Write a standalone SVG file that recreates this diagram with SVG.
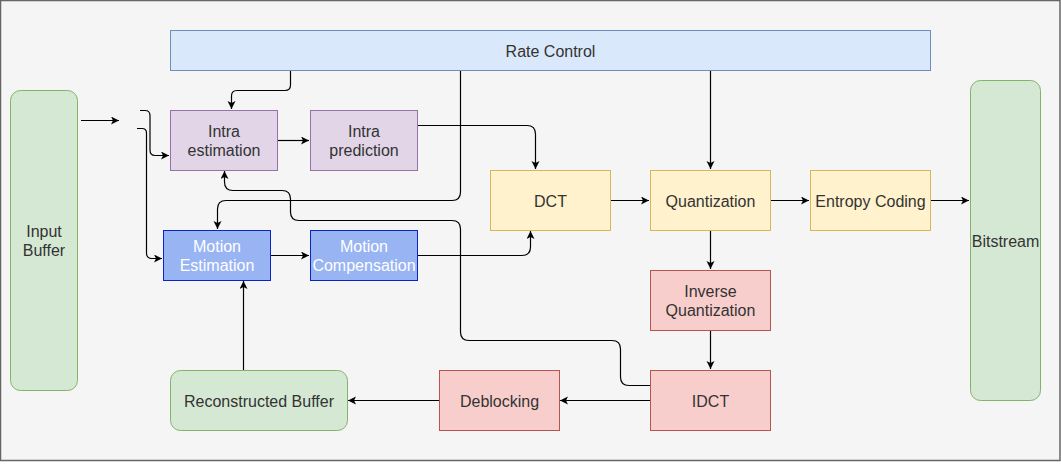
<svg xmlns="http://www.w3.org/2000/svg" width="1061" height="469" viewBox="0 0 1061 469">
<style>
.t{font-family:"Liberation Sans",Arial,sans-serif;font-size:16px;fill:#333;text-anchor:middle}
.w{fill:#fff}
.g{fill:#d5e8d4;stroke:#82b366}
.b{fill:#dae8fc;stroke:#6c8ebf}
.p{fill:#e1d5e7;stroke:#9673a6}
.m{fill:#99b4f3;stroke:#0a24c8}
.y{fill:#fff2cc;stroke:#d6b656}
.r{fill:#f8cecc;stroke:#b85450}
.e{fill:none;stroke:#000;stroke-width:1.2;marker-end:url(#a)}
.n{fill:none;stroke:#000;stroke-width:1.2}
</style>
<defs>
<marker id="a" markerUnits="userSpaceOnUse" markerWidth="10" markerHeight="10" refX="8" refY="4" orient="auto"><path d="M0,0 L8,4 L0,8 L2,4 z" fill="#000"/></marker>
</defs>
<rect x="0.5" y="0.5" width="1059.5" height="460" fill="#f5f5f5" stroke="#666" stroke-width="1.5"/>
<g id="connectors">
<path class="e" d="M81,120.5 L119,120.5"/>
<path class="e" d="M140,110.5 L145,110.5 Q150,110.5 150,115.5 L150,150 Q150,155.5 155,155.5 L169,155.5"/>
<path class="e" d="M137,128.5 L142,128.5 Q146.5,128.5 146.5,133 L146.5,253 Q146.5,258.5 152,258.5 L162,258.5"/>
<path class="e" d="M290.5,70 L290.5,85 Q290.5,90.5 285,90.5 L237,90.5 Q231.5,90.5 231.5,96 L231.5,109"/>
<path class="e" d="M277,140.5 L309,140.5"/>
<path class="e" d="M270,255.5 L309,255.5"/>
<path class="e" d="M417,125.5 L527,125.5 Q535.5,125.5 535.5,134 L535.5,169"/>
<path class="e" d="M417,255.5 L522,255.5 Q530.5,255.5 530.5,247 L530.5,231"/>
<path class="e" d="M460.5,70 L460.5,192 Q460.5,200.5 452,200.5 L226,200.5 Q217.5,200.5 217.5,209 L217.5,229"/>
<path class="e" d="M650,385.5 L629,385.5 Q620.5,385.5 620.5,377 L620.5,349 Q620.5,340.5 612,340.5 L469,340.5 Q460.5,340.5 460.5,332 L460.5,229 Q460.5,220.5 452,220.5 L299,220.5 Q290.5,220.5 290.5,212 L290.5,199 Q290.5,190.5 282,190.5 L233,190.5 Q224.5,190.5 224.5,182 L224.5,171"/>
<path class="e" d="M610,200.5 L649,200.5"/>
<path class="e" d="M770,200.5 L809,200.5"/>
<path class="e" d="M930,200.5 L969,200.5"/>
<path class="e" d="M710.5,70 L710.5,169"/>
<path class="e" d="M710.5,230 L710.5,269"/>
<path class="e" d="M710.5,330 L710.5,369"/>
<path class="e" d="M650,400.5 L560,400.5"/>
<path class="e" d="M439,400.5 L348,400.5"/>
<path class="e" d="M243.5,370 L243.5,281"/>
</g>
<g id="rate-control"><rect class="b" x="170.5" y="30.5" width="760" height="40"/><text class="t" x="550.5" y="56.5">Rate Control</text></g>
<g id="input-buffer"><rect class="g" x="10.5" y="90.5" width="67" height="300" rx="10"/><text class="t" x="44" y="236.5">Input</text><text class="t" x="44" y="255.5">Buffer</text></g>
<g id="bitstream"><rect class="g" x="970.5" y="80.5" width="70" height="320" rx="10"/><text class="t" x="1005.5" y="246.5">Bitstream</text></g>
<g id="intra-estimation"><rect class="p" x="170.5" y="110.5" width="107" height="60"/><text class="t" x="224" y="136.5">Intra</text><text class="t" x="224" y="155.5">estimation</text></g>
<g id="intra-prediction"><rect class="p" x="310.5" y="110.5" width="107" height="60"/><text class="t" x="364" y="136.5">Intra</text><text class="t" x="364" y="155.5">prediction</text></g>
<g id="motion-estimation"><rect class="m" x="163.5" y="230.5" width="107" height="50"/><text class="t w" x="217" y="251.5">Motion</text><text class="t w" x="217" y="270.5">Estimation</text></g>
<g id="motion-compensation"><rect class="m" x="310.5" y="230.5" width="107" height="50"/><text class="t w" x="364" y="251.5">Motion</text><text class="t w" x="364" y="270.5">Compensation</text></g>
<g id="dct"><rect class="y" x="490.5" y="170.5" width="120" height="60"/><text class="t" x="550.5" y="206.5">DCT</text></g>
<g id="quantization"><rect class="y" x="650.5" y="170.5" width="120" height="60"/><text class="t" x="710.5" y="206.5">Quantization</text></g>
<g id="entropy-coding"><rect class="y" x="810.5" y="170.5" width="120" height="60"/><text class="t" x="870.5" y="206.5">Entropy Coding</text></g>
<g id="inverse-quantization"><rect class="r" x="650.5" y="270.5" width="120" height="60"/><text class="t" x="710.5" y="296.5">Inverse</text><text class="t" x="710.5" y="315.5">Quantization</text></g>
<g id="idct"><rect class="r" x="650.5" y="370.5" width="120" height="60"/><text class="t" x="710.5" y="406.5">IDCT</text></g>
<g id="deblocking"><rect class="r" x="439.5" y="370.5" width="120" height="60"/><text class="t" x="499.5" y="406.5">Deblocking</text></g>
<g id="reconstructed-buffer"><rect class="g" x="170.5" y="370.5" width="177" height="60" rx="10"/><text class="t" x="259" y="406.5">Reconstructed Buffer</text></g>
</svg>
